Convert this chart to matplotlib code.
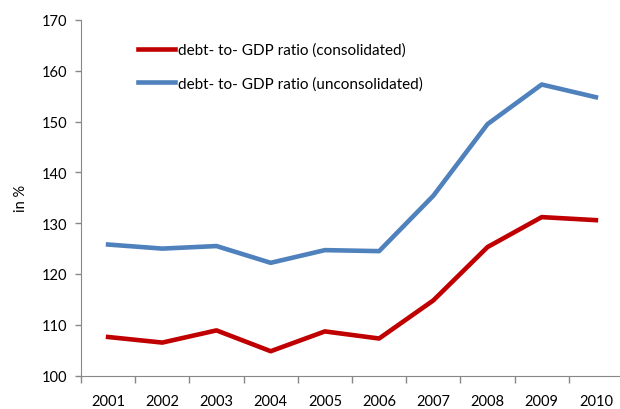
import matplotlib.pyplot as plt

years = ["2001", "2002", "2003", "2004", "2005", "2006", "2007", "2008", "2009", "2010"]
consolidated = [107.6, 106.5, 108.9, 104.8, 108.7, 107.3, 114.8, 125.3, 131.2, 130.6]
unconsolidated = [125.8, 125.0, 125.5, 122.2, 124.7, 124.5, 135.4, 149.5, 157.3, 154.8]

plt.rcParams['font.family'] = ['Lato', 'DejaVu Sans']

fig = plt.figure(figsize=(6.2, 4.1), dpi=100)
ax = fig.add_axes([81 / 620, 33.4 / 410, 542 / 620, 355.6 / 410])

x = range(1, len(years) + 1)
ax.plot(x, consolidated, color='#C00000', lw=3.3, label='debt- to- GDP ratio (consolidated)')
ax.plot(x, unconsolidated, color='#4F81BD', lw=3.3, label='debt- to- GDP ratio (unconsolidated)')

ax.set_xlim(0.5, 10.5)
ax.set_ylim(100, 170)
ax.set_yticks(range(100, 171, 10))
ax.set_xticks(list(x))
ax.set_xticklabels(years)
ax.set_xticks([i + 0.5 for i in range(0, 11)], minor=True)
ax.tick_params(axis='x', which='major', length=0, pad=13, labelsize=10.5)
ax.tick_params(axis='x', which='minor', length=5, color='#888888', width=1)
ax.tick_params(axis='y', length=4, color='#888888', width=1, labelsize=10.5, pad=6)

for s in ['top', 'right']:
    ax.spines[s].set_visible(False)
for s in ['left', 'bottom']:
    ax.spines[s].set_color('#888888')

ax.set_ylabel('in %', fontsize=10.5, labelpad=10)

ax.legend(loc='upper left', bbox_to_anchor=(0.08, 0.975), frameon=False,
          fontsize=11, handlelength=2.4, handletextpad=0.2, labelspacing=1.25)

plt.savefig("out.png", dpi=100)
